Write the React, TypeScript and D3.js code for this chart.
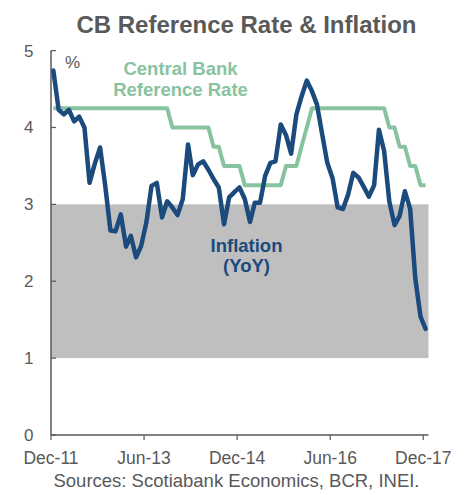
import React from "react";
import * as d3 from "d3";

// Peru CPI inflation, y/y %, monthly Dec-11 .. Dec-17
const inflation2011 = [4.74];
const inflation2012 = [4.23, 4.17, 4.23, 4.08, 4.14, 4.0, 3.28, 3.53, 3.74, 3.25, 2.66, 2.65];
const inflation2013 = [2.87, 2.45, 2.59, 2.31, 2.46, 2.77, 3.24, 3.28, 2.83, 3.04, 2.96, 2.86];
const inflation2014 = [3.07, 3.78, 3.38, 3.52, 3.56, 3.45, 3.33, 3.22, 2.74, 3.09, 3.16, 3.22];
const inflation2015 = [3.07, 2.77, 3.02, 3.02, 3.37, 3.54, 3.56, 4.04, 3.9, 3.66, 4.17, 4.4];
const inflation2016 = [4.61, 4.47, 4.3, 3.91, 3.54, 3.34, 2.96, 2.94, 3.13, 3.41, 3.35, 3.23];
const inflation2017 = [3.1, 3.25, 3.97, 3.69, 3.04, 2.73, 2.85, 3.17, 2.94, 2.04, 1.54, 1.38];

// Central bank reference rate, %, same months
const rate2011 = [4.25];
const rate2012 = [4.25, 4.25, 4.25, 4.25, 4.25, 4.25, 4.25, 4.25, 4.25, 4.25, 4.25, 4.25];
const rate2013 = [4.25, 4.25, 4.25, 4.25, 4.25, 4.25, 4.25, 4.25, 4.25, 4.25, 4.0, 4.0];
const rate2014 = [4.0, 4.0, 4.0, 4.0, 4.0, 4.0, 3.75, 3.75, 3.5, 3.5, 3.5, 3.5];
const rate2015 = [3.25, 3.25, 3.25, 3.25, 3.25, 3.25, 3.25, 3.25, 3.5, 3.5, 3.5, 3.75];
const rate2016 = [4.0, 4.25, 4.25, 4.25, 4.25, 4.25, 4.25, 4.25, 4.25, 4.25, 4.25, 4.25];
const rate2017 = [4.25, 4.25, 4.25, 4.25, 4.0, 4.0, 3.75, 3.75, 3.5, 3.5, 3.25, 3.25];

const xTickLabels = ["Dec-11", "Jun-13", "Dec-14", "Jun-16", "Dec-17"];
const yTicks = [0, 1, 2, 3, 4, 5];
const targetBand = [1, 3];

const inflation = [
  ...inflation2011, ...inflation2012, ...inflation2013, ...inflation2014,
  ...inflation2015, ...inflation2016, ...inflation2017,
];
const refRate = [
  ...rate2011, ...rate2012, ...rate2013, ...rate2014,
  ...rate2015, ...rate2016, ...rate2017,
];

const W = 469;
const H = 495;
const gray = "#595959";
const blue = "#1B4A7C";
const green = "#88C3A0";
const font = "'Liberation Sans', Arial, sans-serif";

const parseTick = d3.timeParse("%b-%y");
// data points sit mid-month, ticks on the 1st
const monthDate = (i: number) => new Date(2011, 11 + i, 15);

export default function App() {
  const x = d3
    .scaleTime()
    .domain([new Date(2011, 11, 1), new Date(2018, 0, 1)])
    .range([51, 428.5]);
  const y = d3.scaleLinear().domain([0, 5]).range([435, 50.6]);

  const line = d3
    .line<number>()
    .x((_, i) => x(monthDate(i)))
    .y((d) => y(d));

  const [x0, x1] = x.range();

  return (
    <svg
      width={W}
      height={H}
      style={{ position: "absolute", left: 0, top: 0, background: "#fff" }}
      fontFamily={font}
    >
      <text x={246.5} y={33} textAnchor="middle" fontSize={24} fontWeight="bold" fill={gray}>
        CB Reference Rate &amp; Inflation
      </text>

      {/* target range band */}
      <rect
        x={x0}
        y={y(targetBand[1])}
        width={x1 - x0}
        height={y(targetBand[0]) - y(targetBand[1])}
        fill="#BFBFBF"
      />

      {/* y axis */}
      <line x1={x0} x2={x0} y1={y(5)} y2={y(0)} stroke={gray} strokeWidth={1.5} />
      {yTicks.map((t) => (
        <g key={t}>
          <line x1={x0} x2={x0 + 5} y1={y(t)} y2={y(t)} stroke={gray} strokeWidth={1.2} />
          <text x={33.5} y={y(t) + 6} textAnchor="end" fontSize={17} fill={gray}>
            {t}
          </text>
        </g>
      ))}
      <text x={65} y={68} fontSize={17} fill={gray}>
        %
      </text>

      {/* x axis */}
      <line x1={x0} x2={x1} y1={y(0)} y2={y(0)} stroke={gray} strokeWidth={1.5} />
      {xTickLabels.map((lbl) => {
        const d = parseTick(lbl) as Date;
        return (
          <g key={lbl}>
            <line x1={x(d)} x2={x(d)} y1={y(0)} y2={y(0) + 5} stroke={gray} strokeWidth={1.2} />
            <text x={x(d)} y={464} textAnchor="middle" fontSize={17.5} fill={gray}>
              {lbl}
            </text>
          </g>
        );
      })}

      <path d={line(refRate) ?? ""} fill="none" stroke={green} strokeWidth={4} strokeLinejoin="round" />
      <path d={line(inflation) ?? ""} fill="none" stroke={blue} strokeWidth={4.5} strokeLinejoin="round" strokeLinecap="round" />

      <text textAnchor="middle" fontSize={18.5} fontWeight="bold" fill={green}>
        <tspan x={180.5} y={75}>Central Bank</tspan>
        <tspan x={180.5} y={96}>Reference Rate</tspan>
      </text>
      <text textAnchor="middle" fontSize={18.5} fontWeight="bold" fill={blue}>
        <tspan x={246.5} y={251.5}>Inflation</tspan>
        <tspan x={246.5} y={272}>(YoY)</tspan>
      </text>

      <text x={236.5} y={486.5} textAnchor="middle" fontSize={18.5} fill={gray}>
        Sources: Scotiabank Economics, BCR, INEI.
      </text>
    </svg>
  );
}
